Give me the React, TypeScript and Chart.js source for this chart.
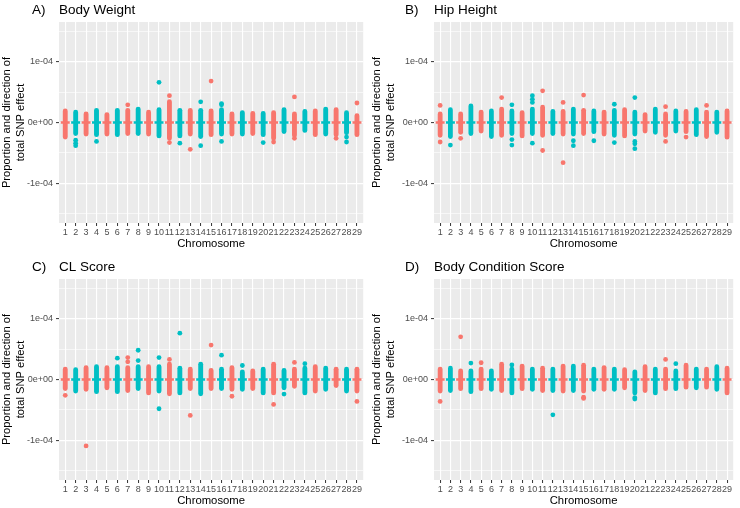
import React, { useEffect, useRef } from "react";
import { Chart, registerables } from "chart.js";

Chart.register(...registerables);

// ---------- data (y values in units of 1e-05) ----------
const chromosomes = [1, 2, 3, 4, 5, 6, 7, 8, 9, 10, 11, 12, 13, 14, 15, 16, 17, 18, 19, 20, 21, 22, 23, 24, 25, 26, 27, 28, 29];

const yGridValues = [-15, -10, -5, 0, 5, 10, 15];
const yGridLabels = ["", "-1e-04", "", "0e+00", "", "1e-04", ""];
const yMajorValues = [-10, 0, 10];

// A) Body Weight
const bwLow = [-2.8, -2.2, -2.3, -2.4, -2.3, -2.4, -2.2, -2.2, -2.3, -2.6, -3.0, -2.6, -2.3, -2.7, -2.4, -2.3, -2.3, -2.3, -2.2, -2.4, -3.0, -1.9, -2.5, -1.7, -2.4, -2.3, -2.4, -2.1, -2.4];
const bwHigh = [2.3, 2.1, 1.8, 2.4, 1.7, 2.4, 2.4, 2.6, 2.1, 2.5, 3.8, 2.4, 2.4, 2.4, 2.3, 2.5, 1.8, 2.0, 1.9, 1.9, 2.0, 2.5, 1.8, 2.2, 2.3, 2.6, 2.5, 2.0, 1.5];
const bwOutliers: [number, number][] = [
  [2, -2.9], [2, -3.4], [2, -3.8], [4, -3.1], [7, 2.9], [10, 6.6], [11, 4.4], [11, -3.3], [12, -3.4],
  [13, -4.4], [14, 3.4], [14, -3.8], [15, 6.8], [16, 2.9], [16, 3.1], [16, -3.1], [20, -3.3], [21, -3.2],
  [23, 4.2], [23, -2.6], [27, -2.6], [28, -2.4], [28, -3.2], [29, 3.2],
];

// B) Hip Height
const hhLow = [-2.5, -2.7, -2.0, -2.2, -1.8, -2.7, -2.5, -2.2, -2.6, -2.2, -2.5, -2.2, -2.3, -2.3, -2.2, -1.9, -2.3, -2.5, -2.6, -2.3, -1.8, -2.0, -2.5, -1.8, -1.9, -2.4, -2.7, -2.0, -2.8];
const hhHigh = [1.8, 2.5, 1.8, 3.1, 2.1, 2.3, 2.6, 2.3, 2.0, 2.6, 2.9, 2.2, 2.2, 2.6, 2.4, 2.3, 2.1, 2.4, 2.5, 2.1, 1.7, 2.6, 1.8, 2.3, 2.2, 2.5, 2.1, 2.1, 2.3];
const hhOutliers: [number, number][] = [
  [1, 2.8], [1, -3.2], [2, -3.7], [3, -2.6], [7, 4.1], [8, 2.9], [8, -2.8], [8, -3.7], [10, 4.4], [10, 3.8],
  [10, 3.3], [10, -3.4], [11, 5.2], [11, -4.6], [13, 3.3], [13, -6.6], [14, -3.0], [14, -3.8], [15, 4.5],
  [16, -3.0], [18, 3.0], [18, -3.3], [20, 4.1], [20, -3.1], [20, -3.5], [20, -4.3], [23, 2.6], [23, -3.1],
  [25, -2.4], [27, 2.8],
];

// C) CL Score
const clLow = [-1.9, -2.3, -2.0, -2.4, -1.75, -2.4, -2.2, -1.9, -2.6, -2.3, -2.75, -2.6, -1.9, -2.75, -1.9, -1.9, -2.0, -2.0, -1.9, -2.6, -2.6, -1.75, -1.5, -2.6, -2.3, -2.0, -1.4, -2.3, -2.3];
const clHigh = [2.1, 2.0, 2.35, 2.5, 2.35, 2.5, 2.35, 2.5, 2.5, 2.5, 2.9, 2.25, 2.1, 2.9, 1.9, 2.1, 2.35, 1.65, 1.8, 2.1, 2.9, 1.9, 2.1, 2.25, 2.5, 2.25, 2.1, 2.1, 2.1];
const clOutliers: [number, number][] = [
  [1, -2.6], [3, -10.9], [6, 3.5], [7, 2.9], [7, 3.6], [8, 3.1], [8, 4.8], [10, 3.6], [10, -4.8], [11, 3.3],
  [12, 7.6], [13, -5.9], [15, 5.65], [16, 4.0], [17, -2.75], [18, 2.3], [21, -4.1], [22, -2.4], [23, 2.8],
  [24, 2.6], [29, -3.6],
];

// D) Body Condition Score
const bcsLow = [-2.3, -2.2, -1.9, -2.4, -1.9, -2.0, -2.2, -2.6, -1.9, -2.0, -2.2, -2.2, -2.3, -2.2, -2.3, -2.0, -2.0, -2.0, -1.75, -2.6, -2.2, -2.6, -1.9, -1.9, -1.65, -1.75, -1.65, -2.0, -2.6];
const bcsHigh = [2.1, 2.25, 1.8, 1.8, 2.1, 1.8, 2.9, 2.1, 2.6, 2.1, 2.25, 2.1, 2.6, 2.6, 2.75, 2.1, 2.35, 2.1, 2.0, 1.65, 2.5, 2.1, 2.1, 1.8, 2.75, 2.1, 2.1, 2.5, 2.25];
const bcsOutliers: [number, number][] = [
  [1, -3.6], [3, 7.0], [4, 2.7], [5, 2.75], [8, 2.4], [12, -5.8], [15, -2.9], [15, -3.1], [20, -3.0],
  [20, -3.2], [23, 3.3], [24, 2.6],
];

// ---------- styling ----------
const RED = "#F8766D";
const TEAL = "#00BFC4";
const FONT = "'Liberation Sans', Arial, Helvetica, sans-serif";
const colorOf = (chr: number) => (chr % 2 === 1 ? RED : TEAL);

type PanelDef = {
  tag: string;
  title: string;
  low: number[];
  high: number[];
  outliers: [number, number][];
  left: number;
  top: number;
  axisWidth: number;
  padRight: number;
  tagX: number;
};

const panels: PanelDef[] = [
  { tag: "A)", title: "Body Weight", low: bwLow, high: bwHigh, outliers: bwOutliers, left: 0, top: 0, axisWidth: 59, padRight: 4, tagX: 32 },
  { tag: "B)", title: "Hip Height", low: hhLow, high: hhHigh, outliers: hhOutliers, left: 370, top: 0, axisWidth: 64, padRight: 3, tagX: 35 },
  { tag: "C)", title: "CL Score", low: clLow, high: clHigh, outliers: clOutliers, left: 0, top: 257, axisWidth: 59, padRight: 4, tagX: 32 },
  { tag: "D)", title: "Body Condition Score", low: bcsLow, high: bcsHigh, outliers: bcsOutliers, left: 370, top: 257, axisWidth: 64, padRight: 3, tagX: 35 },
];

function Panel({ def }: { def: PanelDef }) {
  const ref = useRef<HTMLCanvasElement | null>(null);
  useEffect(() => {
    if (!ref.current) return;
    const bgPlugin = {
      id: "panelBg",
      beforeDraw(chart: any) {
        const { ctx, chartArea } = chart;
        ctx.save();
        ctx.fillStyle = "#EBEBEB";
        ctx.fillRect(chartArea.left, chartArea.top, chartArea.right - chartArea.left, chartArea.bottom - chartArea.top);
        ctx.restore();
      },
      afterDraw(chart: any) {
        const { ctx, chartArea } = chart;
        ctx.save();
        ctx.fillStyle = "#000000";
        ctx.font = `13.5px ${FONT}`;
        ctx.textBaseline = "middle";
        ctx.textAlign = "left";
        ctx.fillText(def.tag, def.tagX, 10.5);
        ctx.fillText(def.title, chartArea.left, 10.5);
        ctx.restore();
      },
    };
    const chart = new Chart(ref.current, {
      type: "scatter",
      data: {
        datasets: [
          {
            type: "scatter",
            label: "zero",
            data: chromosomes.map((c) => ({ x: c, y: 0 })),
            pointStyle: "line",
            pointRadius: 4.5,
            pointBorderWidth: 2.3,
            pointBorderColor: chromosomes.map(colorOf),
            pointBackgroundColor: chromosomes.map(colorOf),
            order: 0,
          },
          {
            type: "scatter",
            label: "outliers",
            data: def.outliers.map(([c, v]) => ({ x: c, y: v })),
            pointRadius: 2.4,
            pointBorderWidth: 0,
            pointBackgroundColor: def.outliers.map(([c]) => colorOf(c)),
            order: 1,
          },
          {
            type: "bar",
            label: "range",
            data: chromosomes.map((c, i) => ({ x: c, y: [def.low[i], def.high[i]] })) as any,
            backgroundColor: chromosomes.map(colorOf),
            categoryPercentage: 1,
            barPercentage: 0.47,
            maxBarThickness: 5,
            inflateAmount: 0,
            borderRadius: 2.5,
            borderSkipped: false,
            grouped: false,
            order: 2,
          } as any,
        ],
      },
      options: {
        animation: false,
        responsive: false,
        devicePixelRatio: 1,
        events: [],
        layout: { padding: { left: 0, top: 22, right: def.padRight, bottom: 0 } },
        plugins: { legend: { display: false }, tooltip: { enabled: false }, title: { display: false } },
        scales: {
          x: {
            type: "linear",
            min: 0.4,
            max: 29.6,
            offset: false,
            afterBuildTicks: (s: any) => {
              s.ticks = chromosomes.map((c) => ({ value: c }));
            },
            afterFit: (s: any) => {
              s.height = 31;
            },
            ticks: {
              autoSkip: false,
              maxRotation: 0,
              minRotation: 0,
              color: "#4D4D4D",
              font: { family: FONT, size: 9 },
              padding: 1,
              callback: (v: any) => String(v),
            },
            grid: {
              offset: false,
              color: "#FFFFFF",
              lineWidth: 1.1,
              drawTicks: true,
              tickLength: 3,
              tickColor: "#333333",
              tickWidth: 1,
            },
            border: { display: false },
            title: {
              display: true,
              text: "Chromosome",
              color: "#000000",
              font: { family: FONT, size: 11.3 },
              padding: { top: 0, bottom: 3.2 },
            },
          },
          y: {
            type: "linear",
            min: -16.5,
            max: 16.5,
            afterBuildTicks: (s: any) => {
              s.ticks = yGridValues.map((v) => ({ value: v }));
            },
            afterFit: (s: any) => {
              s.width = def.axisWidth;
            },
            ticks: {
              autoSkip: false,
              color: "#4D4D4D",
              font: { family: FONT, size: 9 },
              padding: 3,
              callback: (v: any) => {
                const i = yGridValues.indexOf(Number(v));
                return i >= 0 ? yGridLabels[i] : "";
              },
            },
            grid: {
              color: "#FFFFFF",
              lineWidth: (ctx: any) => (yMajorValues.includes(ctx.tick?.value) ? 1.2 : 0.6),
              tickLength: 3,
              tickWidth: 1,
              tickColor: (ctx: any) => (yMajorValues.includes(ctx.tick?.value) ? "#333333" : "rgba(0,0,0,0)"),
            },
            border: { display: false },
            title: {
              display: true,
              text: ["Proportion and direction of", "total SNP effect"],
              color: "#000000",
              font: { family: FONT, size: 11.2, lineHeight: 1.25 },
              padding: { top: 0.3, bottom: 0 },
            },
          },
        },
      } as any,
      plugins: [bgPlugin],
    });
    return () => chart.destroy();
  }, [def]);

  return (
    <canvas
      ref={ref}
      width={370}
      height={254}
      style={{ position: "absolute", left: def.left, top: def.top, width: 370, height: 254, display: "block" }}
    />
  );
}

export default function App() {
  return (
    <div
      style={{
        position: "fixed",
        left: 0,
        top: 0,
        width: 740,
        height: 508,
        overflow: "hidden",
        background: "#FFFFFF",
      }}
    >
      {panels.map((p) => (
        <Panel key={p.tag} def={p} />
      ))}
    </div>
  );
}
